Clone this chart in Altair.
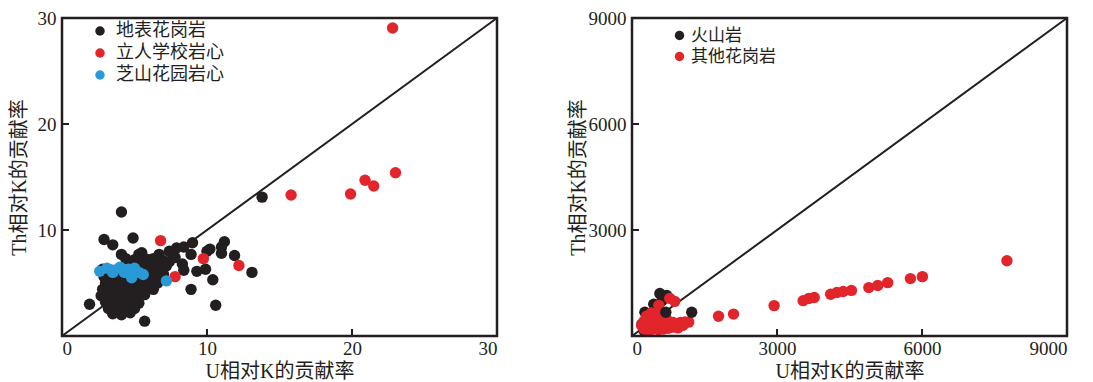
import altair as alt
import pandas as pd

# ---------------- data ----------------
left_names = ["地表花岗岩", "立人学校岩心", "芝山花园岩心"]
right_names = ["火山岩", "其他花岗岩"]
colors_left = ["#231f20", "#e2252b", "#2a9ad6"]
colors_right = ["#231f20", "#e2252b"]

# left panel: 地表花岗岩 (black)
lb_x = [4.1, 13.8, 2.9, 4.9, 3.5, 4.1, 1.9, 5.7, 10.6, 10.4, 8.9, 13.1, 11.2, 11.0, 9.0, 8.4,
        7.9, 7.4, 10.2, 10.0, 8.9, 8.3, 9.3, 9.9, 8.4, 11.9, 11.0, 5.5, 6.7, 5.3, 6.0, 6.7, 7.4, 7.8,
        4.4, 5.0, 5.6, 6.3, 7.0, 4.8, 5.4, 6.1, 6.6, 7.2,
        2.8, 3.4, 4.0, 4.6, 5.2, 5.8, 6.4,
        2.9, 3.5, 4.1, 4.7, 5.3, 5.9, 6.5, 7.0,
        3.0, 3.6, 4.2, 4.8, 5.4, 6.0, 6.6,
        2.8, 3.4, 4.0, 4.6, 5.2, 5.8, 6.3,
        2.7, 3.3, 3.9, 4.5, 5.1, 5.7,
        3.0, 3.6, 4.2, 4.8, 5.3,
        3.2, 3.8, 4.4, 5.0,
        3.5, 4.1, 4.7]
lb_y = [11.7, 13.1, 9.1, 9.25, 8.6, 7.7, 3.0, 1.4, 2.9, 5.3, 4.4, 6.0, 8.9, 8.4, 8.8, 8.4,
        8.3, 8.0, 8.2, 8.0, 7.7, 6.8, 6.1, 6.3, 6.2, 7.6, 7.8, 7.85, 7.7, 7.7, 7.2, 6.6, 7.0, 7.4,
        7.3, 7.2, 7.4, 7.3, 7.1, 6.8, 6.9, 6.7, 6.9, 6.6,
        6.3, 6.2, 6.4, 6.3, 6.2, 6.4, 6.3,
        5.6, 5.5, 5.7, 5.6, 5.5, 5.7, 5.6, 5.8,
        5.0, 4.9, 5.1, 5.0, 4.9, 5.1, 5.0,
        4.4, 4.3, 4.5, 4.4, 4.3, 4.5, 4.4,
        3.8, 3.7, 3.9, 3.8, 3.7, 3.9,
        3.2, 3.1, 3.3, 3.2, 3.1,
        2.6, 2.5, 2.7, 2.6,
        2.1, 2.0, 2.2]

# left panel: 立人学校岩心 (red)
lr_x = [22.8, 15.8, 19.9, 20.9, 21.5, 23.0, 6.8, 9.75, 12.2, 7.8]
lr_y = [29.05, 13.3, 13.4, 14.7, 14.15, 15.4, 9.0, 7.3, 6.65, 5.6]

# left panel: 芝山花园岩心 (blue)
lc_x = [2.6, 3.1, 3.5, 3.6, 4.0, 4.3, 4.6, 4.6, 5.0, 5.3, 5.6, 4.8, 7.2]
lc_y = [6.1, 6.4, 6.0, 6.2, 6.5, 6.0, 5.9, 6.3, 6.4, 6.0, 5.8, 5.5, 5.2]

# right panel: 火山岩 (black)
rb_x = [576, 720, 267, 309, 206, 380, 450, 620, 330, 520, 250, 400]
rb_y = [1204, 1148, 672, 476, 336, 560, 900, 1000, 250, 420, 150, 300]
# black points drawn above the red ones
rbt_x = [700, 1235]
rbt_y = [672, 672]

# right panel: 其他花岗岩 (red)
rr_x = [7757, 6008, 5760, 5290, 5085, 4900, 4540, 4370, 4240, 4110, 3770, 3660, 3540, 2940, 2100, 1790,
        782, 885, 556, 576, 1173, 988,
        300, 400, 500, 600, 700, 800, 900, 1000, 1100, 350, 450, 550, 650, 750, 850,
        250, 350, 450, 550, 650, 750, 400, 500, 300, 620, 700, 250, 200, 850, 950, 1050]
rr_y = [2129, 1680, 1625, 1510, 1430, 1370, 1290, 1260, 1230, 1180, 1090, 1065, 1000, 860, 620, 560,
        1064, 980, 868, 672, 392, 336,
        330, 250, 300, 350, 300, 320, 300, 380, 400, 520, 450, 500, 450, 420, 380,
        200, 150, 200, 180, 200, 220, 650, 600, 560, 560, 520, 420, 300, 250, 230, 300]

left_xticks = [0, 10, 20, 30]
left_yticks = [10, 20, 30]
left_inner = [10, 20]
right_xticks = [0, 3000, 6000, 9000]
right_yticks = [3000, 6000, 9000]
right_inner = [3000, 6000]
left_max = 30
right_max = 9000

W, H = 435, 318
SERIF = "Liberation Serif, Noto Sans CJK SC"
CJK = "Noto Sans CJK SC"
INK = "#231f20"


def frame(groups):
    rows = []
    for name, xs, ys in groups:
        for a, b in zip(xs, ys):
            rows.append({"x": a, "y": b, "s": name})
    return pd.DataFrame(rows)


def panel(df, names, colors, vmax, xt, yt, inner, title_x, leg_x, leg_y, leg_off, leg_font, leg_pad):
    sc = alt.Scale(domain=[0, vmax], nice=False, zero=True)
    xax = alt.Axis(values=xt, format="d", ticks=False, domain=False, grid=False, labelFont=SERIF,
                   labelFontSize=19, labelColor=INK, labelPadding=3,
                   title="U相对K的贡献率", titleFont=SERIF, titleFontSize=20,
                   titleFontWeight="normal", titleColor=INK, titlePadding=3)
    yax = alt.Axis(values=yt, format="d", ticks=False, domain=False, grid=False, labelFont=SERIF,
                   labelFontSize=19, labelColor=INK, labelPadding=6,
                   title="Th相对K的贡献率", titleFont=SERIF, titleFontSize=20,
                   titleFontWeight="normal", titleColor=INK, titleX=title_x)
    X = alt.X("x:Q", scale=sc, axis=xax)
    Y = alt.Y("y:Q", scale=sc, axis=yax)

    box = alt.Chart(pd.DataFrame({"k": [0]})).mark_rect(
        fill=None, fillOpacity=0, stroke=INK, strokeWidth=2.5).encode(
        x=alt.value(0), x2=alt.value(W), y=alt.value(0), y2=alt.value(H))
    diag = alt.Chart(pd.DataFrame({"x": [0, vmax], "y": [0, vmax]})).mark_line(
        color=INK, strokeWidth=2).encode(x=X, y=Y)
    tx = alt.Chart(pd.DataFrame({"x": inner})).mark_rule(
        color=INK, strokeWidth=2).encode(x=X, y=alt.value(H), y2=alt.value(H - 7))
    ty = alt.Chart(pd.DataFrame({"y": inner})).mark_rule(
        color=INK, strokeWidth=2).encode(y=Y, x=alt.value(0), x2=alt.value(7))
    pts = alt.Chart(df).mark_circle(size=130, opacity=1).encode(
        x=X, y=Y,
        color=alt.Color("s:N", scale=alt.Scale(domain=names, range=colors),
                        legend=alt.Legend(title=None, orient="none", legendX=leg_x, legendY=leg_y,
                                          symbolType="circle", symbolSize=90,
                                          symbolStrokeWidth=0, labelFont=CJK,
                                          labelFontSize=leg_font, labelColor=INK,
                                          labelOffset=leg_off, rowPadding=leg_pad, padding=0,
                                          labelLimit=300)),
    )
    return alt.layer(diag, tx, ty, pts, box).properties(width=W, height=H)


left_df = frame([(left_names[0], lb_x, lb_y), (left_names[1], lr_x, lr_y),
                 (left_names[2], lc_x, lc_y)])
right_df = frame([(right_names[0], rb_x, rb_y), (right_names[1], rr_x, rr_y),
                  (right_names[0], rbt_x, rbt_y)])

left = panel(left_df, left_names, colors_left, left_max, left_xticks, left_yticks, left_inner,
             -33, 29, 4, 7, 18, 4)
right = panel(right_df, right_names, colors_right, right_max, right_xticks, right_yticks,
              right_inner, -44, 39, 9, 3, 17, 3)

chart = alt.hconcat(left, right, spacing=65).resolve_scale(color="independent").resolve_legend(
    color="independent").properties(padding={"left": 0, "top": 0, "right": 0, "bottom": 0}
).configure_view(strokeWidth=0).configure(background="white")

chart.save("out.html", embed_options={"renderer": "svg", "actions": False})
